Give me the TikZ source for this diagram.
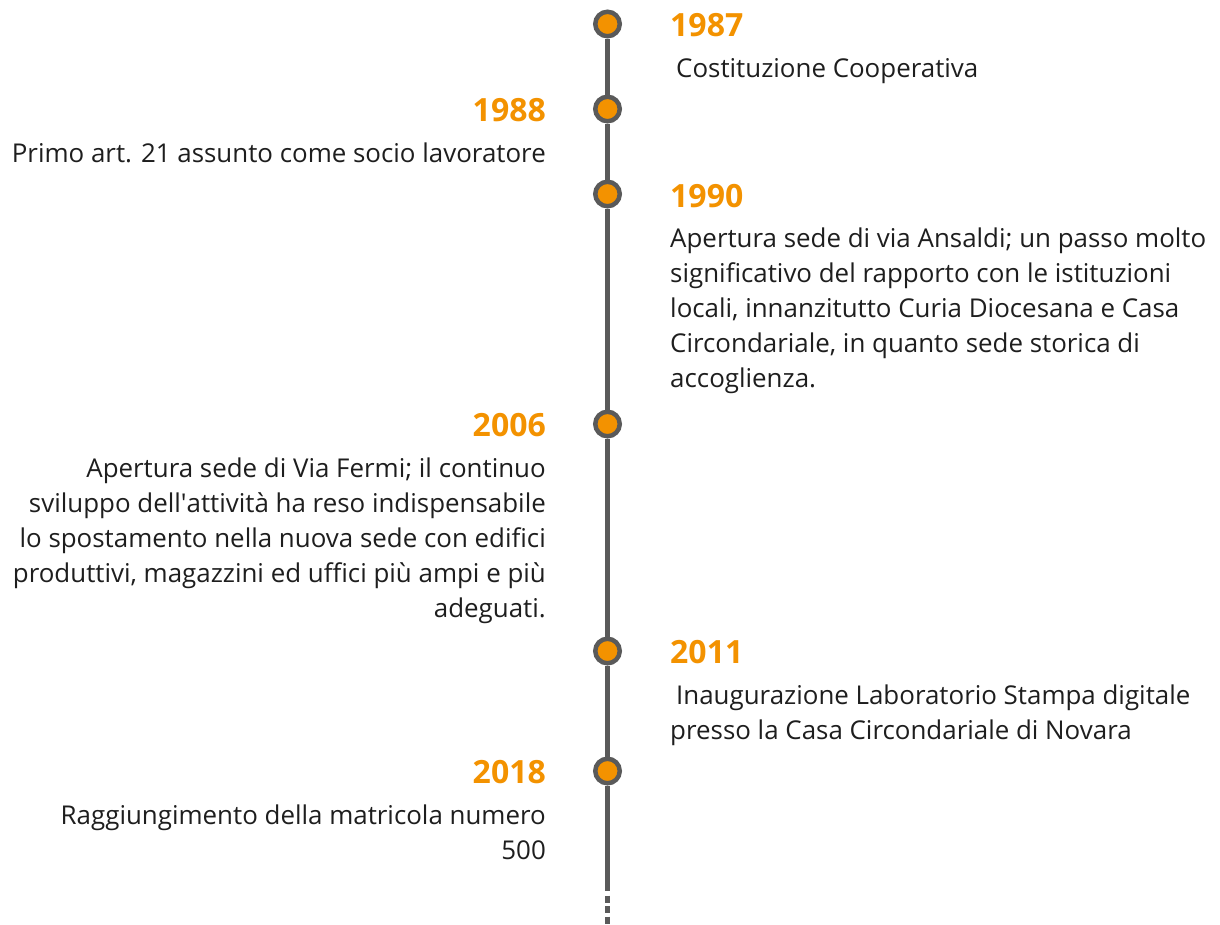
\documentclass[tikz,border=0pt]{standalone}
\usepackage{fontspec}
\setmainfont{Open Sans}
\definecolor{tlorange}{HTML}{F39200}
\definecolor{tlgray}{HTML}{5A5A5A}
\definecolor{tltext}{HTML}{1E1E1E}
\tikzset{
  dot/.style={circle, minimum size=24.5pt, inner sep=0pt, draw=tlgray, line width=4.5pt, fill=tlorange},
  spine/.style={draw=tlgray, line width=5pt},
  spinedash/.style={draw=tlgray, line width=5pt, dash pattern=on 7pt off 3.5pt},
  year/.style={inner sep=0pt, text=tlorange, font=\fontsize{32}{38}\selectfont\bfseries},
  txt/.style={inner sep=0pt, text=tltext, font=\fontsize{25.9}{35}\selectfont},
}
\begin{document}
\begin{tikzpicture}[x=1pt,y=-1pt]
\useasboundingbox (0,0) rectangle (1220,924);
% spine coordinates
\coordinate (send) at (607.5,891);
\coordinate (dstart) at (607.5,895.5);
\coordinate (dend) at (607.5,924);
% dots
\node[dot] (c1) at (607.5,24) {};
\node[dot] (c2) at (607.5,109) {};
\node[dot] (c3) at (607.5,194) {};
\node[dot] (c4) at (607.5,424) {};
\node[dot] (c5) at (607.5,651) {};
\node[dot] (c6) at (607.5,771) {};
% spine
\draw[spine] (c1) -- (c2);
\draw[spine] (c2) -- (c3);
\draw[spine] (c3) -- (c4);
\draw[spine] (c4) -- (c5);
\draw[spine] (c5) -- (c6);
\draw[spine] (c6) -- (send);
\draw[spinedash] (dstart) -- (dend);
% years
\node[year, anchor=base west] (y1) at (670,36) {1987};
\node[year, anchor=base east] (y2) at (546,121) {1988};
\node[year, anchor=base west] (y3) at (670,207) {1990};
\node[year, anchor=base east] (y4) at (546,436) {2006};
\node[year, anchor=base west] (y5) at (670,663) {2011};
\node[year, anchor=base east] (y6) at (546,783) {2018};
% texts
\node[txt, anchor=base west] (t1) at (670,77) {\begin{tabular}[t]{@{}l@{}}\hspace{6pt}Costituzione Cooperativa\end{tabular}};
\node[txt, anchor=base east] (t2) at (546,162) {\begin{tabular}[t]{@{}r@{}}Primo art. 21 assunto come socio lavoratore\end{tabular}};
\node[txt, anchor=base west] (t3) at (670,247) {\begin{tabular}[t]{@{}l@{}}Apertura sede di via Ansaldi; un passo molto\\ significativo del rapporto con le istituzioni\\ locali, innanzitutto Curia Diocesana e Casa\\ Circondariale, in quanto sede storica di\\ accoglienza.\end{tabular}};
\node[txt, anchor=base east] (t4) at (546,477) {\begin{tabular}[t]{@{}r@{}}Apertura sede di Via Fermi; il continuo\\ sviluppo dell\textquotesingle attività ha reso indispensabile\\ lo spostamento nella nuova sede con edifici\\ produttivi, magazzini ed uffici più ampi e più\\ adeguati.\end{tabular}};
\node[txt, anchor=base west] (t5) at (670,704) {\begin{tabular}[t]{@{}l@{}}\hspace{6pt}Inaugurazione Laboratorio Stampa digitale\\ presso la Casa Circondariale di Novara\end{tabular}};
\node[txt, anchor=base east] (t6) at (546,824) {\begin{tabular}[t]{@{}r@{}}Raggiungimento della matricola numero\\ 500\end{tabular}};
\end{tikzpicture}
\end{document}
